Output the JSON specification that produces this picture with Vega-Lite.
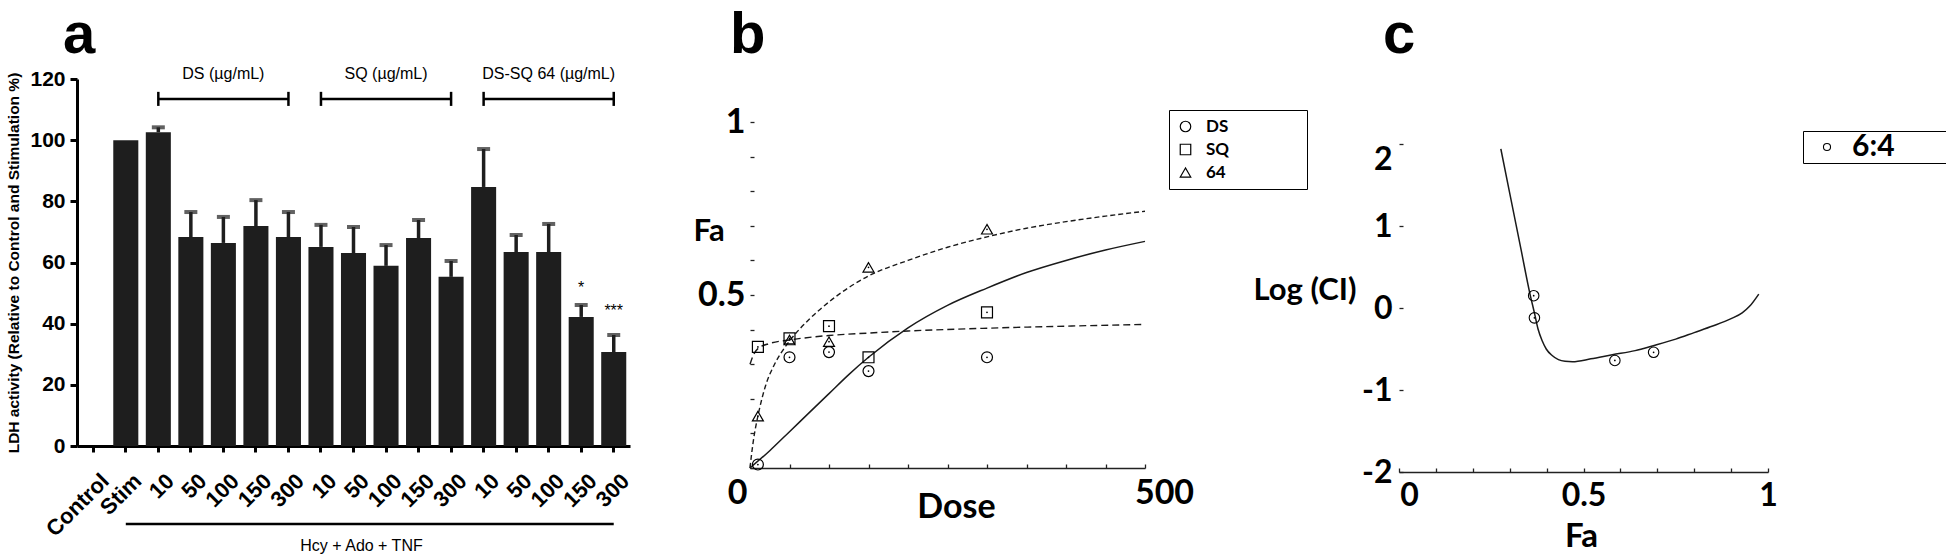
{
  "$schema": "https://vega.github.io/schema/vega-lite/v6.json",
  "background": "white",
  "padding": {"left": 6, "top": 7, "right": 0, "bottom": 0},
  "config": {"view": {"stroke": null}, "font": "Liberation Sans", "axis": {"grid": false}},
  "bounds": "full",
  "align": "none",
  "spacing": 59,
  "resolve": {"scale": {"shape": "shared", "color": "shared"}, "legend": {"shape": "shared", "color": "shared"}},
  "datasets": {
    "bars": [
      {"k": "Control", "v": 0, "e": null},
      {"k": "Stim", "v": 100, "e": null},
      {"k": "DS|10", "v": 102.6, "e": 104.2},
      {"k": "DS|50", "v": 68.3, "e": 76.5},
      {"k": "DS|100", "v": 66.4, "e": 74.9},
      {"k": "DS|150", "v": 71.9, "e": 80.4},
      {"k": "DS|300", "v": 68.3, "e": 76.5},
      {"k": "SQ|10", "v": 65.1, "e": 72.3},
      {"k": "SQ|50", "v": 63.1, "e": 71.6},
      {"k": "SQ|100", "v": 58.9, "e": 65.7},
      {"k": "SQ|150", "v": 68.0, "e": 73.9},
      {"k": "SQ|300", "v": 55.3, "e": 60.5},
      {"k": "64|10", "v": 84.7, "e": 97.1},
      {"k": "64|50", "v": 63.4, "e": 69.0},
      {"k": "64|100", "v": 63.4, "e": 72.6},
      {"k": "64|150", "v": 42.2, "e": 46.1},
      {"k": "64|300", "v": 30.7, "e": 36.3}
    ],
    "brackets": [
      {"from": "DS|10", "to": "DS|300", "mid": "DS|100", "label": "DS (µg/mL)"},
      {"from": "SQ|10", "to": "SQ|300", "mid": "SQ|100", "label": "SQ (µg/mL)"},
      {"from": "64|10", "to": "64|300", "mid": "64|100", "label": "DS-SQ 64 (µg/mL)"}
    ],
    "treat": [{"from": "Stim", "to": "64|300", "mid": "SQ|50", "label": "Hcy + Ado + TNF"}],
    "stars": [{"k": "64|150", "t": "*", "y": 51.5}, {"k": "64|300", "t": "***", "y": 44}],
    "b_pts": [
      {"s": "DS", "d": 10, "fa": 0.01}, {"s": "DS", "d": 50, "fa": 0.32}, {"s": "DS", "d": 100, "fa": 0.335}, {"s": "DS", "d": 150, "fa": 0.28}, {"s": "DS", "d": 300, "fa": 0.32},
      {"s": "SQ", "d": 10, "fa": 0.35}, {"s": "SQ", "d": 50, "fa": 0.375}, {"s": "SQ", "d": 100, "fa": 0.41}, {"s": "SQ", "d": 150, "fa": 0.32}, {"s": "SQ", "d": 300, "fa": 0.45},
      {"s": "64", "d": 10, "fa": 0.15}, {"s": "64", "d": 50, "fa": 0.37}, {"s": "64", "d": 100, "fa": 0.365}, {"s": "64", "d": 150, "fa": 0.58}, {"s": "64", "d": 300, "fa": 0.69}
    ],
    "b_curves": [
      {"s": "DS", "d": 0, "fa": 0}, {"s": "DS", "d": 25, "fa": 0.05}, {"s": "DS", "d": 50, "fa": 0.105}, {"s": "DS", "d": 75, "fa": 0.16}, {"s": "DS", "d": 100, "fa": 0.215}, {"s": "DS", "d": 125, "fa": 0.27}, {"s": "DS", "d": 150, "fa": 0.32}, {"s": "DS", "d": 200, "fa": 0.405}, {"s": "DS", "d": 250, "fa": 0.47}, {"s": "DS", "d": 300, "fa": 0.52}, {"s": "DS", "d": 350, "fa": 0.565}, {"s": "DS", "d": 400, "fa": 0.6}, {"s": "DS", "d": 450, "fa": 0.63}, {"s": "DS", "d": 500, "fa": 0.655},
      {"s": "SQ", "d": 0, "fa": 0.3}, {"s": "SQ", "d": 5, "fa": 0.33}, {"s": "SQ", "d": 10, "fa": 0.345}, {"s": "SQ", "d": 25, "fa": 0.36}, {"s": "SQ", "d": 50, "fa": 0.37}, {"s": "SQ", "d": 100, "fa": 0.383}, {"s": "SQ", "d": 150, "fa": 0.39}, {"s": "SQ", "d": 200, "fa": 0.396}, {"s": "SQ", "d": 300, "fa": 0.404}, {"s": "SQ", "d": 400, "fa": 0.41}, {"s": "SQ", "d": 500, "fa": 0.415},
      {"s": "64", "d": 0, "fa": 0}, {"s": "64", "d": 2, "fa": 0.04}, {"s": "64", "d": 5, "fa": 0.09}, {"s": "64", "d": 10, "fa": 0.15}, {"s": "64", "d": 20, "fa": 0.24}, {"s": "64", "d": 30, "fa": 0.295}, {"s": "64", "d": 40, "fa": 0.335}, {"s": "64", "d": 50, "fa": 0.367}, {"s": "64", "d": 75, "fa": 0.43}, {"s": "64", "d": 100, "fa": 0.48}, {"s": "64", "d": 150, "fa": 0.555}, {"s": "64", "d": 200, "fa": 0.6}, {"s": "64", "d": 250, "fa": 0.638}, {"s": "64", "d": 300, "fa": 0.668}, {"s": "64", "d": 350, "fa": 0.693}, {"s": "64", "d": 400, "fa": 0.712}, {"s": "64", "d": 450, "fa": 0.728}, {"s": "64", "d": 500, "fa": 0.742}
    ],
    "c_pts": [
      {"r": "6:4", "fa": 0.365, "ci": 0.15}, {"r": "6:4", "fa": 0.367, "ci": -0.12}, {"r": "6:4", "fa": 0.585, "ci": -0.64}, {"r": "6:4", "fa": 0.69, "ci": -0.54}
    ],
    "c_curve": [
      {"fa": 0.276, "ci": 1.94}, {"fa": 0.3, "ci": 1.4}, {"fa": 0.33, "ci": 0.73}, {"fa": 0.355, "ci": 0.17}, {"fa": 0.367, "ci": -0.06}, {"fa": 0.377, "ci": -0.26}, {"fa": 0.388, "ci": -0.4}, {"fa": 0.399, "ci": -0.5}, {"fa": 0.415, "ci": -0.58}, {"fa": 0.432, "ci": -0.63}, {"fa": 0.45, "ci": -0.65}, {"fa": 0.47, "ci": -0.655}, {"fa": 0.52, "ci": -0.62}, {"fa": 0.578, "ci": -0.57}, {"fa": 0.64, "ci": -0.52}, {"fa": 0.689, "ci": -0.46}, {"fa": 0.75, "ci": -0.38}, {"fa": 0.8, "ci": -0.3}, {"fa": 0.85, "ci": -0.22}, {"fa": 0.9, "ci": -0.13}, {"fa": 0.93, "ci": -0.06}, {"fa": 0.95, "ci": 0.02}, {"fa": 0.975, "ci": 0.17}
    ]
  },
  "hconcat": [
    {
      "width": 553,
      "height": 367,
      "title": {"text": "a", "anchor": "start", "frame": "group", "font": "Liberation Sans", "fontSize": 58, "fontWeight": "bold", "color": "black", "offset": 1, "dx": -14},
      "layer": [
        {
          "data": {"name": "bars"},
          "mark": {"type": "bar", "color": "#1e1e1e"},
          "encoding": {
            "x": {"field": "k", "type": "nominal", "sort": null,
              "scale": {"domain": ["Control", "Stim", "DS|10", "DS|50", "DS|100", "DS|150", "DS|300", "SQ|10", "SQ|50", "SQ|100", "SQ|150", "SQ|300", "64|10", "64|50", "64|100", "64|150", "64|300"], "paddingInner": 0.23, "paddingOuter": 0.115},
              "axis": {"title": null, "labelExpr": "peek(split(datum.label, '|'))", "labelAngle": -45, "labelAlign": "right", "labelBaseline": "top", "labelFont": "Liberation Sans", "labelFontSize": 22, "labelFontWeight": "bold", "labelColor": "black", "labelOffset": 5, "labelPadding": 18, "domainColor": "black", "domainWidth": 3, "tickColor": "black", "tickWidth": 3, "tickSize": 6}},
            "y": {"field": "v", "type": "quantitative",
              "scale": {"domain": [0, 120], "nice": false},
              "axis": {"values": [0, 20, 40, 60, 80, 100, 120], "title": "LDH activity (Relative to Control and Stimulation %)", "titleFont": "Liberation Sans", "titleFontSize": 15.5, "titleFontWeight": "bold", "titleColor": "black", "titlePadding": 8, "labelFont": "Liberation Sans", "labelFontSize": 21, "labelFontWeight": "bold", "labelColor": "black", "labelPadding": 5, "domainColor": "black", "domainWidth": 3, "tickColor": "black", "tickWidth": 3, "tickSize": 7}}
          }
        },
        {
          "data": {"name": "bars"},
          "transform": [{"filter": "isValid(datum.e)"}],
          "mark": {"type": "rule", "color": "#1e1e1e", "strokeWidth": 3.5},
          "encoding": {
            "x": {"field": "k", "type": "nominal"},
            "y": {"field": "v", "type": "quantitative"},
            "y2": {"field": "e"}
          }
        },
        {
          "data": {"name": "bars"},
          "transform": [{"filter": "isValid(datum.e)"}],
          "mark": {"type": "tick", "color": "#1e1e1e", "thickness": 4, "size": 13},
          "encoding": {
            "x": {"field": "k", "type": "nominal"},
            "y": {"field": "e", "type": "quantitative"}
          }
        },
        {
          "data": {"name": "brackets"},
          "mark": {"type": "rule", "color": "black", "strokeWidth": 2.5},
          "encoding": {
            "x": {"field": "from", "type": "nominal", "bandPosition": 0.5},
            "x2": {"field": "to"},
            "y": {"datum": 113.5}
          }
        },
        {
          "data": {"name": "brackets"},
          "transform": [{"fold": ["from", "to"], "as": ["end", "kk"]}],
          "mark": {"type": "rule", "color": "black", "strokeWidth": 2.5},
          "encoding": {
            "x": {"field": "kk", "type": "nominal"},
            "y": {"datum": 111.2},
            "y2": {"datum": 115.8}
          }
        },
        {
          "data": {"name": "brackets"},
          "mark": {"type": "text", "font": "Liberation Sans", "fontSize": 16, "color": "black", "baseline": "middle"},
          "encoding": {
            "x": {"field": "mid", "type": "nominal"},
            "y": {"datum": 121.6},
            "text": {"field": "label"}
          }
        },
        {
          "data": {"name": "treat"},
          "mark": {"type": "rule", "color": "black", "strokeWidth": 2.5},
          "encoding": {
            "x": {"field": "from", "type": "nominal", "bandPosition": 0.5},
            "x2": {"field": "to"},
            "y": {"datum": -25.5}
          }
        },
        {
          "data": {"name": "treat"},
          "mark": {"type": "text", "font": "Liberation Sans", "fontSize": 16, "color": "black", "baseline": "middle", "dx": 8},
          "encoding": {
            "x": {"field": "mid", "type": "nominal"},
            "y": {"datum": -32.7},
            "text": {"field": "label"}
          }
        },
        {
          "data": {"name": "stars"},
          "mark": {"type": "text", "font": "Liberation Sans", "fontSize": 16, "color": "black", "baseline": "middle"},
          "encoding": {
            "x": {"field": "k", "type": "nominal"},
            "y": {"field": "y", "type": "quantitative"},
            "text": {"field": "t"}
          }
        }
      ]
    },
    {
      "width": 395,
      "height": 389,
      "title": {"text": "b", "anchor": "start", "frame": "group", "font": "Liberation Sans", "fontSize": 58, "fontWeight": "bold", "color": "black", "offset": 14, "dx": -20},
      "layer": [
        {
          "data": {"name": "b_curves"},
          "transform": [{"filter": "datum.s == 'DS'"}],
          "mark": {"type": "line", "color": "#1a1a1a", "strokeWidth": 1.5, "interpolate": "monotone"},
          "encoding": {
            "x": {"field": "d", "type": "quantitative",
              "scale": {"domain": [0, 500], "nice": false},
              "axis": {"values": [0, 50, 100, 150, 200, 250, 300, 350, 400, 450, 500], "tickCount": 50, "labelFlush": false, "labelExpr": "datum.value < 1 ? '0' : datum.value > 499 ? '500' : ''", "labelOverlap": false, "labelOffset": {"condition": {"test": "datum.value < 1", "value": -13}, "value": 19}, "labelFont": "Lato", "labelFontSize": 34, "labelFontWeight": "bold", "labelColor": "black", "labelPadding": 12, "tickSize": -4, "tickColor": "#222", "tickWidth": 1.3, "domainColor": "#222", "domainWidth": 1.5, "title": "Dose", "titleFont": "Lato", "titleFontSize": 34, "titleFontWeight": "bold", "titleColor": "black", "titleX": 206, "titleY": 49, "titleAlign": "center", "titleBaseline": "alphabetic"}},
            "y": {"field": "fa", "type": "quantitative",
              "scale": {"domain": [0, 1.1243], "nice": false},
              "axis": {"values": [0, 0.1, 0.2, 0.3, 0.4, 0.5, 0.6, 0.7, 0.8, 0.9, 1], "tickCount": 50, "labelExpr": "datum.value > 0.95 ? '1' : (datum.value > 0.45 && datum.value < 0.55) ? '0.5' : ''", "labelOverlap": false, "labelFont": "Lato", "labelFontSize": 34, "labelFontWeight": "bold", "labelColor": "black", "labelPadding": 9, "domain": false, "tickSize": -4, "tickColor": "#222", "tickWidth": 1.3, "title": "Fa", "titleFont": "Lato", "titleFontSize": 31, "titleFontWeight": "bold", "titleColor": "black", "titleAngle": 0, "titleAlign": "left", "titleBaseline": "middle", "titleX": -57, "titleY": 152}}
          }
        },
        {
          "mark": {"type": "rule", "color": "#222", "strokeWidth": 1.5},
          "encoding": {"x": {"datum": 0}, "y": {"datum": 0}, "y2": {"datum": 1}}
        },
        {
          "data": {"name": "b_curves"},
          "transform": [{"filter": "datum.s == 'SQ'"}],
          "mark": {"type": "line", "color": "#1a1a1a", "strokeWidth": 1.4, "interpolate": "monotone", "strokeDash": [7, 4]},
          "encoding": {
            "x": {"field": "d", "type": "quantitative"},
            "y": {"field": "fa", "type": "quantitative"}
          }
        },
        {
          "data": {"name": "b_curves"},
          "transform": [{"filter": "datum.s == '64'"}],
          "mark": {"type": "line", "color": "#1a1a1a", "strokeWidth": 1.4, "interpolate": "monotone", "strokeDash": [5, 3]},
          "encoding": {
            "x": {"field": "d", "type": "quantitative"},
            "y": {"field": "fa", "type": "quantitative"}
          }
        },
        {
          "data": {"name": "b_pts"},
          "mark": {"type": "point", "filled": false, "color": "black", "strokeWidth": 1.2, "size": 120, "opacity": 1},
          "encoding": {
            "x": {"field": "d", "type": "quantitative"},
            "y": {"field": "fa", "type": "quantitative"},
            "shape": {"field": "s", "type": "nominal", "scale": {"domain": ["DS", "SQ", "64"], "range": ["circle", "square", "triangle-up"]},
              "legend": {"title": "00000", "titleColor": "white", "titleOrient": "right", "titleFont": "Lato", "titleFontSize": 20, "titlePadding": 12, "orient": "none", "legendX": 1092, "legendY": 31, "strokeColor": "black", "padding": 8, "rowPadding": 5, "labelFont": "Lato", "labelFontSize": 17, "labelFontWeight": "bold", "labelColor": "black", "labelOffset": 12, "symbolSize": 110, "symbolStrokeColor": "black", "symbolStrokeWidth": 1.2, "symbolFillColor": "transparent"}}
          }
        },
        {
          "data": {"name": "b_pts"},
          "mark": {"type": "point", "filled": true, "color": "black", "size": 3, "opacity": 1},
          "encoding": {
            "x": {"field": "d", "type": "quantitative"},
            "y": {"field": "fa", "type": "quantitative"}
          }
        }
      ]
    },
    {
      "width": 369,
      "height": 393,
      "title": {"text": "c", "anchor": "start", "frame": "group", "font": "Liberation Sans", "fontSize": 58, "fontWeight": "bold", "color": "black", "offset": 14, "dx": -16},
      "layer": [
        {
          "data": {"name": "c_curve"},
          "mark": {"type": "line", "color": "#1a1a1a", "strokeWidth": 1.5, "interpolate": "monotone"},
          "encoding": {
            "x": {"field": "fa", "type": "quantitative",
              "scale": {"domain": [0, 1], "nice": false},
              "axis": {"values": [0, 0.1, 0.2, 0.3, 0.4, 0.5, 0.6, 0.7, 0.8, 0.9, 1], "tickCount": 50, "labelFlush": false, "labelExpr": "datum.value < 0.05 ? '0' : (datum.value > 0.45 && datum.value < 0.55) ? '0.5' : datum.value > 0.95 ? '1' : ''", "labelOverlap": false, "labelOffset": {"condition": {"test": "datum.value < 0.05", "value": 10}, "value": 0}, "labelFont": "Lato", "labelFontSize": 32, "labelFontWeight": "bold", "labelColor": "black", "labelPadding": 12, "tickSize": -4, "tickColor": "#222", "tickWidth": 1.3, "domainColor": "#222", "domainWidth": 1.5, "title": "Fa", "titleFont": "Lato", "titleFontSize": 33, "titleFontWeight": "bold", "titleColor": "black", "titleX": 182, "titleY": 74, "titleAlign": "center", "titleBaseline": "alphabetic"}},
            "y": {"field": "ci", "type": "quantitative",
              "scale": {"domain": [-2, 2.7927], "nice": false},
              "axis": {"values": [-2, -1, 0, 1, 2], "tickCount": 50, "labelExpr": "toString(datum.value)", "labelOverlap": false, "labelBaseline": {"condition": {"test": "datum.value == 2", "value": "top"}, "value": "middle"}, "labelFont": "Lato", "labelFontSize": 32, "labelFontWeight": "bold", "labelColor": "black", "labelPadding": 11, "domain": false, "tickSize": -4, "tickColor": "#222", "tickWidth": 1.3, "title": "Log (CI)", "titleFont": "Lato", "titleFontSize": 31, "titleFontWeight": "bold", "titleColor": "black", "titleAngle": 0, "titleAlign": "left", "titleBaseline": "alphabetic", "titleX": -146, "titleY": 220}}
          }
        },
        {
          "mark": {"type": "rule", "color": "#222", "strokeWidth": 1.5},
          "encoding": {"x": {"datum": 0}, "y": {"datum": -2}, "y2": {"datum": 2}}
        },
        {
          "mark": {"type": "rule", "color": "#555", "strokeWidth": 1, "strokeDash": [1.5, 1.5]},
          "encoding": {"y": {"datum": 0}}
        },
        {
          "data": {"name": "c_pts"},
          "mark": {"type": "point", "filled": false, "strokeWidth": 1.1, "size": 110, "opacity": 1},
          "encoding": {
            "x": {"field": "fa", "type": "quantitative"},
            "y": {"field": "ci", "type": "quantitative"},
            "color": {"field": "r", "type": "nominal", "scale": {"domain": ["6:4"], "range": ["black"]},
              "legend": {"title": "00000", "titleColor": "white", "titleOrient": "right", "titleFont": "Lato", "titleFontSize": 20, "titlePadding": 0, "orient": "none", "legendX": 1726, "legendY": 52, "strokeColor": "black", "padding": 1, "labelFont": "Lato", "labelFontSize": 30, "labelFontWeight": "bold", "labelColor": "black", "labelOffset": 10, "symbolOffset": 8, "symbolSize": 50, "symbolStrokeWidth": 1.1, "symbolType": "circle"}}
          }
        },
        {
          "data": {"name": "c_pts"},
          "mark": {"type": "point", "filled": true, "color": "black", "size": 3, "opacity": 1},
          "encoding": {
            "x": {"field": "fa", "type": "quantitative"},
            "y": {"field": "ci", "type": "quantitative"}
          }
        }
      ]
    }
  ]
}
